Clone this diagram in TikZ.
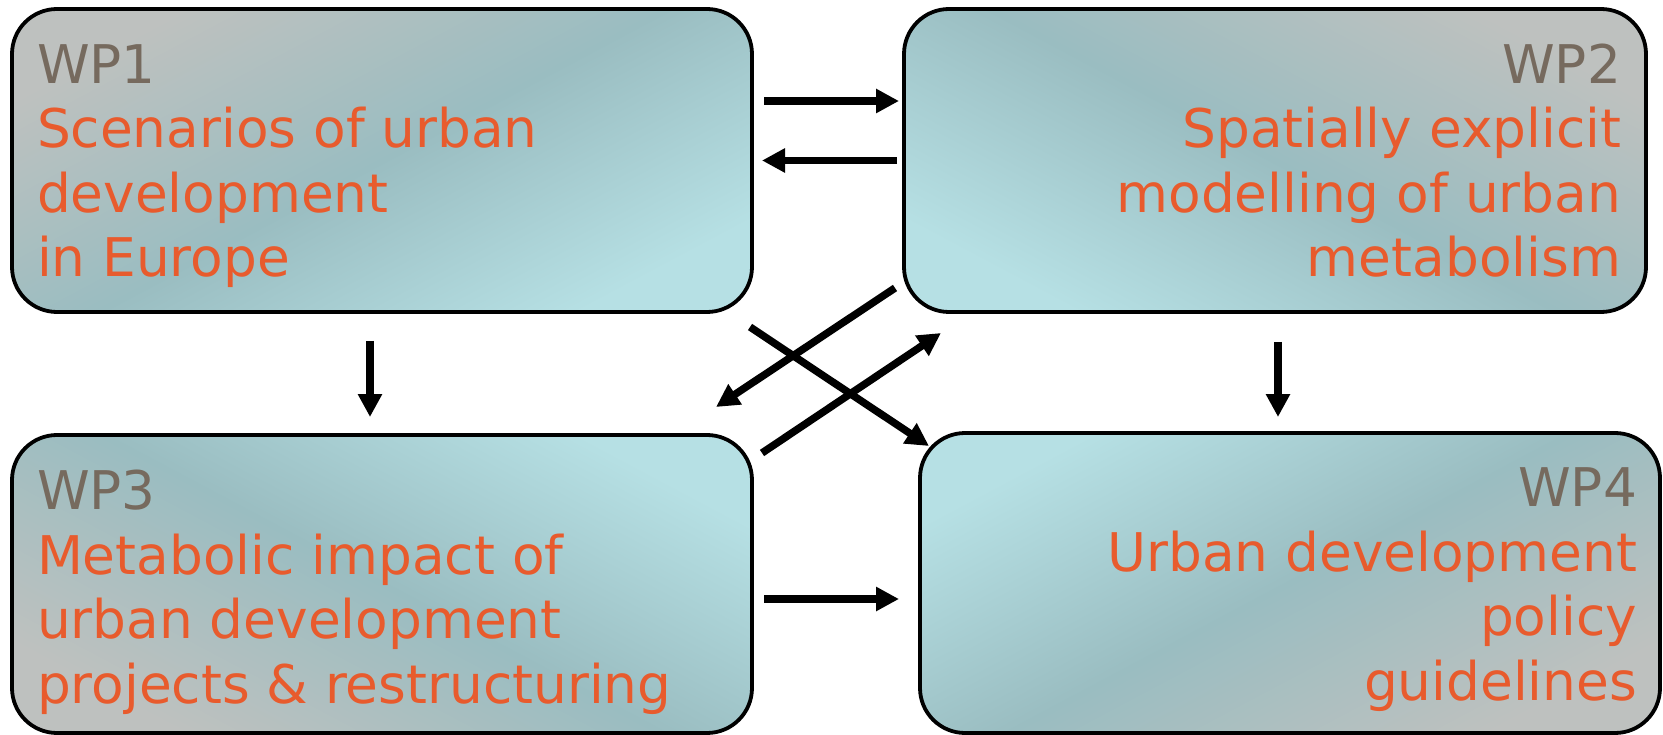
\documentclass[tikz,border=0pt]{standalone}
\usepackage{fontspec}
\setmainfont{DejaVu Sans}
\usetikzlibrary{arrows.meta}
\definecolor{wpgray}{RGB}{118,106,94}
\definecolor{wporange}{RGB}{232,91,45}
\definecolor{shgray}{RGB}{190,193,191}
\definecolor{shteal}{RGB}{154,189,193}
\definecolor{shlight}{RGB}{182,224,228}
\tikzset{
  wpbox/.style={draw=black, line width=3.8pt, rounded corners=45pt, outer sep=0pt, inner sep=0pt,
    top color=shgray, bottom color=shlight, middle color=shteal},
  wptext/.style={inner sep=0pt, outer sep=0pt, text=wporange, font=\fontsize{53.3}{64.5}\selectfont},
  arr/.style={line width=7.5pt, -{Triangle[length=23pt,width=23pt]}},
}
\begin{document}
\begin{tikzpicture}[x=1pt,y=-1pt]
\useasboundingbox (0,0) rectangle (1663,735);
\node[wpbox, minimum width=740pt, minimum height=303pt, shading angle=28] (wp1) at (382,160.5) {};
\node[wpbox, minimum width=742pt, minimum height=303pt, shading angle=-28] (wp2) at (1275,160.5) {};
\node[wpbox, minimum width=740pt, minimum height=298pt, shading angle=152] (wp3) at (382,584) {};
\node[wpbox, minimum width=740pt, minimum height=300pt, shading angle=-152] (wp4) at (1290,583) {};

\node[wptext, anchor=base west, align=left] (wp1t) at (37,277)
  {\textcolor{wpgray}{WP1}\\Scenarios of urban\\development\\in Europe};
\node[wptext, anchor=base east, align=right] (wp2t) at (1621,277)
  {\textcolor{wpgray}{WP2}\\Spatially explicit\\modelling of urban\\metabolism};
\node[wptext, anchor=base west, align=left] (wp3t) at (37,703)
  {\textcolor{wpgray}{WP3}\\Metabolic impact of\\urban development\\projects \& restructuring};
\node[wptext, anchor=base east, align=right] (wp4t) at (1637,700)
  {\textcolor{wpgray}{WP4}\\Urban development\\policy\\guidelines};

\draw[arr] ([shift={(12,-59.5)}]wp1.east) -- ([shift={(-5,-59.5)}]wp2.west);
\draw[arr] ([shift={(-7,0)}]wp2.west) -- ([shift={(10,0)}]wp1.east);
\draw[arr] ([shift={(-12,29)}]wp1.south) -- ([shift={(-12,-18)}]wp3.north);
\draw[arr] ([shift={(3,30)}]wp2.south) -- ([shift={(-12,-16)}]wp4.north);
\draw[arr] ([shift={(12,15)}]wp3.east) -- ([shift={(-21,16)}]wp4.west);
\draw[arr] ([shift={(-9,-24)}]wp2.south west) -- ([shift={(-36,-28)}]wp3.north east);
\draw[arr] ([shift={(-2,15)}]wp1.south east) -- ([shift={(9,13)}]wp4.north west);
\draw[arr] ([shift={(10,18)}]wp3.north east) -- ([shift={(37,21)}]wp2.south west);
\end{tikzpicture}
\end{document}
